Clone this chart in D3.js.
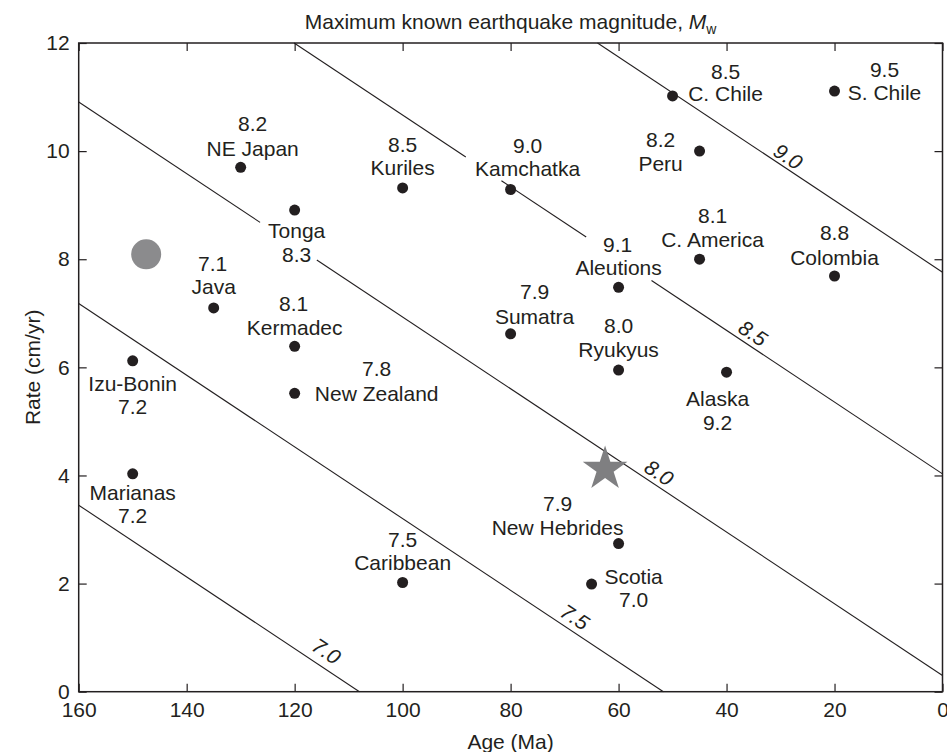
<!DOCTYPE html>
<html><head><meta charset="utf-8">
<script src="https://cdn.jsdelivr.net/npm/d3@7"></script>
<style>body{margin:0;background:#fff}</style>
</head><body>
<svg id="chart" width="947" height="752"></svg>
<script>
// ---------------- data ----------------
const zoneNames = ["NE Japan","Kuriles","Kamchatka","C. Chile","S. Chile","Peru","Tonga","Java","Kermadec","New Zealand","Izu-Bonin","Marianas","Sumatra","Aleutions","C. America","Colombia","Ryukyus","Alaska","New Hebrides","Scotia","Caribbean"];
const zoneAges  = [130,100,80,50,20,45,120,135,120,120,150,150,80,60,45,20,60,40,60,65,100];
const zoneRates = [9.70,9.32,9.29,11.02,11.11,10.0,8.91,7.10,6.39,5.52,6.12,4.03,6.62,7.48,8.0,7.69,5.95,5.91,2.74,1.99,2.02];
const zoneMags  = ["8.2","8.5","9.0","8.5","9.5","8.2","8.3","7.1","8.1","7.8","7.2","7.2","7.9","9.1","8.1","8.8","8.0","9.2","7.9","7.0","7.5"];

const circlePoint = [147.5, 8.09];   // grey circle (age, rate)
const starPoint   = [62.5, 4.12];    // grey star (age, rate)

const xTickValues = [160,140,120,100,80,60,40,20,0];
const yTickValues = [0,2,4,6,8,10,12];

const contourMags   = ["7.0","7.5","8.0","8.5","9.0"];
const contourStart  = [[160,3.45],[160,7.18],[160,10.91],[120.1,12],[63.9,12]];
const contourEnd    = [[108,0],[51.7,0],[0,0.30],[0,4.03],[0,7.76]];
const contourGaps   = [[],[],[[126.4,115.9]],[[88.3,81.7],[66,53.9]],[]];
const contourLabelAt = [[114.1,0.75],[68.1,1.38],[52.5,4.05],[35.1,6.63],[28.6,9.90]];

// ---------------- layout (pixel offsets of the two label lines) ----------------
const labelLayout = {
  "NE Japan":    {m:[12,-44], n:[12,-19]},
  "Kuriles":     {m:[0,-43],  n:[0,-20]},
  "Kamchatka":   {m:[17,-44], n:[17,-21]},
  "C. Chile":    {m:[53,-24], n:[53,-2]},
  "S. Chile":    {m:[50,-21], n:[50,2]},
  "Peru":        {m:[-39,-11],n:[-39,13]},
  "Tonga":       {m:[2,45],   n:[2,21]},
  "Java":        {m:[-1,-44], n:[0,-21]},
  "Kermadec":    {m:[-1,-43], n:[0,-19]},
  "New Zealand": {m:[82,-25], n:[82,0]},
  "Izu-Bonin":   {m:[0,46],   n:[0,23]},
  "Marianas":    {m:[0,42],   n:[0,19]},
  "Sumatra":     {m:[24,-42], n:[24,-17]},
  "Aleutions":   {m:[-1,-43], n:[0,-20]},
  "C. America":  {m:[13,-44], n:[13,-20]},
  "Colombia":    {m:[0,-43],  n:[0,-18]},
  "Ryukyus":     {m:[0,-44],  n:[0,-20]},
  "Alaska":      {m:[-9,50],  n:[-9,26]},
  "New Hebrides":{m:[-61,-40],n:[-61,-16]},
  "Scotia":      {m:[42,16],  n:[42,-7]},
  "Caribbean":   {m:[0,-43],  n:[0,-20]}
};

const W = 947, H = 752;
const margin = {left:78.7, top:43, right:4.5, bottom:60.3};
const ink = "#231f20";
const font = "'Liberation Sans', Arial, Helvetica, sans-serif";

const svg = d3.select("#chart");
svg.append("rect").attr("width",W).attr("height",H).attr("fill","#fff");

const x = d3.scaleLinear().domain([160,0]).range([margin.left, W - margin.right]);
const y = d3.scaleLinear().domain([0,12]).range([H - margin.bottom, margin.top]);

// axes (inward ticks)
const gx = svg.append("g").attr("transform",`translate(0,${y(0)})`)
  .call(d3.axisBottom(x).tickValues(xTickValues).tickSizeInner(-8).tickSizeOuter(0).tickPadding(10).tickFormat(d3.format("d")));
const gxt = svg.append("g").attr("transform",`translate(0,${y(12)})`)
  .call(d3.axisTop(x).tickValues(xTickValues).tickSizeInner(-8).tickSizeOuter(0).tickFormat(""));
const gy = svg.append("g").attr("transform",`translate(${x(160)},0)`)
  .call(d3.axisLeft(y).tickValues(yTickValues).tickSizeInner(-8).tickSizeOuter(0).tickPadding(9).tickFormat(d3.format("d")));
const gyr = svg.append("g").attr("transform",`translate(${x(0)},0)`)
  .call(d3.axisRight(y).tickValues(yTickValues).tickSizeInner(-8).tickSizeOuter(0).tickFormat(""));
[gx,gxt,gy,gyr].forEach(g=>{
  g.select(".domain").remove();
  g.selectAll("line").attr("stroke",ink).attr("stroke-width",1.2);
  g.selectAll("text").attr("fill",ink).style("font-family",font).style("font-size","21px");
});

// frame
svg.append("rect")
  .attr("x",x(160)).attr("y",y(12))
  .attr("width",x(0)-x(160)).attr("height",y(0)-y(12))
  .attr("fill","none").attr("stroke",ink).attr("stroke-width",1.5);

// contour lines (straight, with gaps for labels)
const gc = svg.append("g");
contourMags.forEach((m,i)=>{
  const [a0,r0] = contourStart[i], [a1,r1] = contourEnd[i];
  const rateAt = a => r0 + (r1-r0)*(a-a0)/(a1-a0);
  let intervals = [[a0,a1]];
  contourGaps[i].forEach(([g0,g1])=>{
    const next=[];
    intervals.forEach(([s,e])=>{
      if (g0<=s && g0>=e) { next.push([s,g0]); if (g1>e) next.push([g1,e]); }
      else next.push([s,e]);
    });
    intervals = next;
  });
  intervals.forEach(([s,e])=>{
    gc.append("line")
      .attr("x1",x(s)).attr("y1",y(rateAt(s)))
      .attr("x2",x(e)).attr("y2",y(rateAt(e)))
      .attr("stroke",ink).attr("stroke-width",1.1);
  });
  const ang = Math.atan2(y(r1)-y(r0), x(a1)-x(a0))*180/Math.PI;
  const [la,lr] = contourLabelAt[i];
  gc.append("text")
    .attr("transform",`translate(${x(la)},${y(lr)}) rotate(${ang})`)
    .attr("text-anchor","middle").attr("dy","0.35em")
    .style("font-family",font).style("font-size","21px").style("font-style","italic")
    .attr("fill",ink).text(m);
});

// grey circle and star
svg.append("circle").attr("cx",x(circlePoint[0])).attr("cy",y(circlePoint[1])).attr("r",15)
  .attr("fill","#8b8b8d");
svg.append("path").attr("d",d3.symbol(d3.symbolStar,620)())
  .attr("transform",`translate(${x(starPoint[0])},${y(starPoint[1])})`)
  .attr("fill","#7f7f81");

// subduction zone points and labels
const gp = svg.append("g");
zoneNames.forEach((nm,i)=>{
  const cx = x(zoneAges[i]), cy = y(zoneRates[i]);
  gp.append("circle").attr("cx",cx).attr("cy",cy).attr("r",5.5).attr("fill",ink);
  const L = labelLayout[nm];
  gp.append("text").attr("x",cx+L.m[0]).attr("y",cy+L.m[1]).attr("dy","0.35em")
    .attr("text-anchor","middle").style("font-family",font).style("font-size","21px")
    .attr("fill",ink).text(zoneMags[i]);
  gp.append("text").attr("x",cx+L.n[0]).attr("y",cy+L.n[1]).attr("dy","0.35em")
    .attr("text-anchor","middle").style("font-family",font).style("font-size","21px")
    .attr("fill",ink).text(nm);
});

// titles
const t = svg.append("text").attr("x",(x(160)+x(0))/2).attr("y",21.7).attr("dy","0.35em")
  .attr("text-anchor","middle").style("font-family",font).style("font-size","21px").attr("fill",ink);
t.append("tspan").text("Maximum known earthquake magnitude, ");
t.append("tspan").style("font-style","italic").text("M");
t.append("tspan").attr("dy","5").style("font-size","14px").text("w");

svg.append("text").attr("x",(x(160)+x(0))/2).attr("y",741.7).attr("dy","0.35em")
  .attr("text-anchor","middle").style("font-family",font).style("font-size","21px").attr("fill",ink)
  .text("Age (Ma)");
svg.append("text").attr("transform",`translate(33,${(y(0)+y(12))/2}) rotate(-90)`).attr("dy","0.35em")
  .attr("text-anchor","middle").style("font-family",font).style("font-size","21px").attr("fill",ink)
  .text("Rate (cm/yr)");
</script>
</body></html>
